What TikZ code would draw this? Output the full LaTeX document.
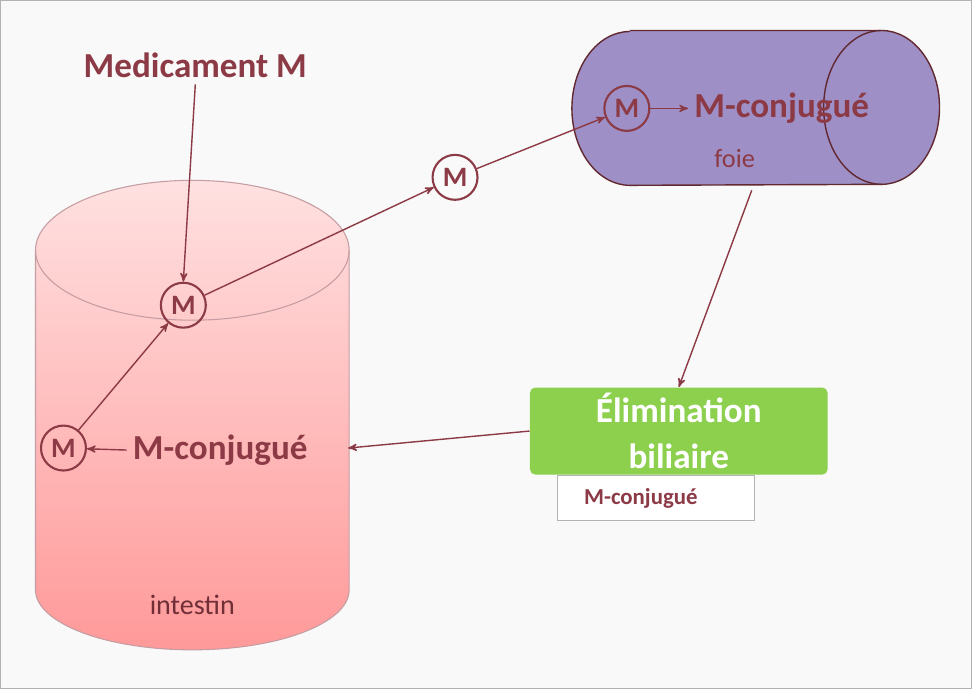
\documentclass[tikz,border=0pt]{standalone}
\usepackage{fontspec}
\setmainfont{Carlito}
\usetikzlibrary{positioning, shapes, arrows}
\definecolor{dred}{HTML}{8C3A45}
\definecolor{liver}{HTML}{9E8FC6}
\definecolor{green}{HTML}{8CD04E}
\begin{document}
\begin{tikzpicture}[x=0.02cm,y=-0.02cm,>=stealth',semithick,
  mol/.style={draw=dred, circle, very thick, minimum size=0.9cm, inner sep=0pt, text=dred, font=\bfseries\fontsize{16}{18}\selectfont},
  lbl/.style={text=dred, font=\bfseries\fontsize{20}{24}\selectfont},
  link/.style={draw=dred, thick, ->}]
  % frame and background
  \path[use as bounding box, fill=gray!5, draw=gray!60] (0,0) rectangle (972,689);
  % intestin
  \shade[top color=red!12, bottom color=red!40, draw=dred!50] (35,250) -- (35,590) arc[start angle=180, end angle=0, x radius=157, y radius=60] -- (349,250) arc[start angle=0, end angle=-180, x radius=157, y radius=70];
  \draw[draw=dred!50] (35,250) arc[start angle=180, end angle=0, x radius=157, y radius=70];
  \node[text=dred!80!black, font=\fontsize{16}{18}\selectfont] (intestin) at (192,605) {intestin};
  % foie
  \draw[fill=liver, draw=dred!70!black, thick] (630,30) -- (882,30) arc[start angle=-90, end angle=90, x radius=58, y radius=77] -- (630,185) arc[start angle=90, end angle=270, x radius=58, y radius=77];
  \draw[draw=dred!70!black, thick] (882,30) arc[start angle=-90, end angle=-270, x radius=58, y radius=77];
  \node[text=dred, font=\fontsize{15}{17}\selectfont] (foie) at (735,158) {foie};
  \coordinate (sortie) at (752,190);
  % nodes
  \node[lbl] (med) at (195,65) {Medicament M};
  \node[mol] (m1) at (183,305) {M};
  \node[mol] (m2) at (455,177) {M};
  \node[mol] (m3) at (627,108) {M};
  \node[lbl] (conj1) at (782,108) {M-conjugué};
  \node[mol] (m4) at (63,448) {M};
  \node[lbl] (conj2) at (220,450) {M-conjugué};
  \node[fill=green, rounded corners=3pt, minimum width=5.96cm, minimum height=1.74cm, align=center, text=white, font=\bfseries\fontsize{20}{26}\selectfont] (elim) at (679,431) {Élimination\\biliaire};
  \node[draw=gray!60, fill=white, minimum width=3.94cm, minimum height=0.9cm, text=dred, font=\bfseries\fontsize{13}{15}\selectfont, anchor=north, inner sep=2pt] (conj3) at (656,475) {\hspace*{-0.6cm}M-conjugué};
  \coordinate (ent) at (348,448);
  % connectors
  \draw[link] (med.south) -- (m1.north);
  \draw[link] (m4) -- (m1);
  \draw[link] (m1) -- (m2);
  \draw[link] (m2) -- (m3);
  \draw[link] (m3) -- (conj1.west);
  \draw[link] (conj2.west) -- (m4);
  \draw[link] (sortie) -- (elim.north);
  \draw[link] (elim.west) -- (ent);
\end{tikzpicture}
\end{document}
